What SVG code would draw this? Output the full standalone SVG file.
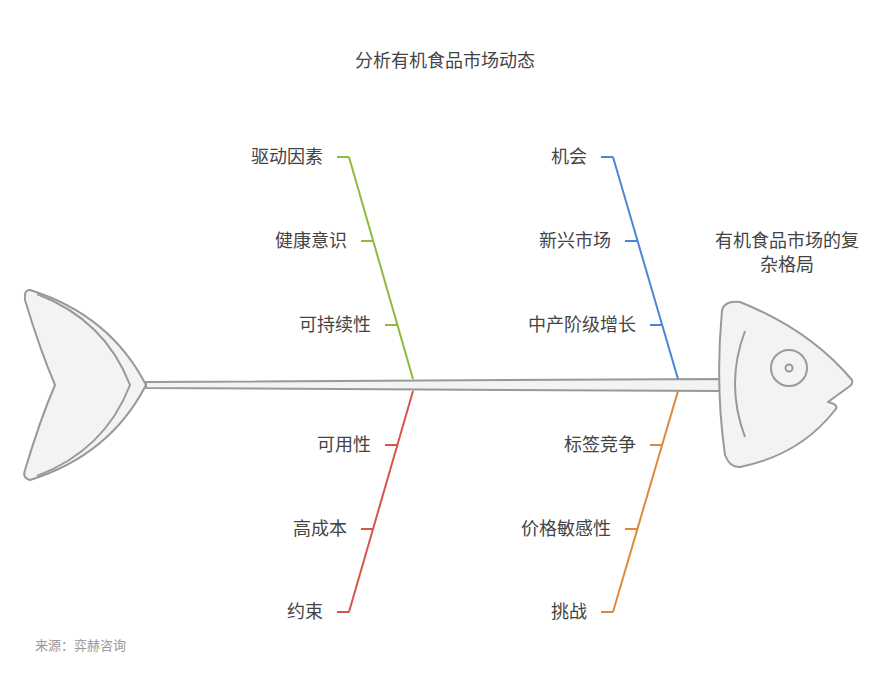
<svg xmlns="http://www.w3.org/2000/svg" width="896" height="674" viewBox="0 0 896 674">
<style>
text{font-family:"Liberation Sans","Noto Sans CJK SC",sans-serif;fill:#444;font-size:18px}
.l{text-anchor:end}
.body{fill:#f3f3f3;stroke:#999;stroke-width:2;stroke-linejoin:round}
.ln{fill:none;stroke:#999;stroke-width:2}
.g{stroke:#8fba3c;stroke-width:2;fill:none}
.r{stroke:#d9534f;stroke-width:2;fill:none}
.b{stroke:#4a86d8;stroke-width:2;fill:none}
.o{stroke:#dd8a3a;stroke-width:2;fill:none}
</style>
<rect width="896" height="674" fill="#fff"/>
<text x="445" y="67" text-anchor="middle">分析有机食品市场动态</text>
<g id="tail">
<path class="body" d="M30,290 Q110,315 146,385 Q110,455 30,480 Q22,478 25,470 Q40,420 55,385 Q40,350 25,300 Q24,289 30,290 Z"/>
<path class="ln" d="M37,294 Q105,320 130,385 Q105,450 37,476"/>
</g>
<g id="spine">
<path class="body" d="M146,382 L721,379 L721,391 L146,388 Z"/>
</g>
<g id="head">
<path class="body" d="M722,310 Q725,300 740,302 Q810,330 852,380 Q853,384 850,386 L828,402 Q840,405 835,410 Q800,455 740,467 Q730,468 725,455 Q715,385 722,310 Z"/>
<path class="ln" d="M745,331 Q725,384 745,437"/>
<circle cx="789" cy="368" r="18" class="ln"/>
<circle cx="789" cy="368" r="3.5" class="ln"/>
<text x="787" y="247" text-anchor="middle">有机食品市场的复</text>
<text x="787" y="271" text-anchor="middle">杂格局</text>
</g>
<g id="connectors">
<path class="g" d="M413,379 L349,157 M337,157 H349 M361,241 H373 M385,325 H397"/>
<path class="r" d="M413,391 L349,612 M337,612 H349 M361,529 H373 M385,445 H397"/>
<path class="b" d="M678,379 L613,157 M601,157 H613 M625,241 H637 M650,325 H662"/>
<path class="o" d="M678,391 L613,612 M601,612 H613 M625,529 H637 M650,445 H662"/>
</g>
<g id="drivers">
<text class="l" x="323" y="163">驱动因素</text>
<text class="l" x="347" y="247">健康意识</text>
<text class="l" x="371" y="331">可持续性</text>
</g>
<g id="constraints">
<text class="l" x="371" y="451">可用性</text>
<text class="l" x="347" y="535">高成本</text>
<text class="l" x="323" y="618">约束</text>
</g>
<g id="opportunities">
<text class="l" x="587" y="163">机会</text>
<text class="l" x="611" y="247">新兴市场</text>
<text class="l" x="636" y="331">中产阶级增长</text>
</g>
<g id="challenges">
<text class="l" x="636" y="451">标签竞争</text>
<text class="l" x="611" y="535">价格敏感性</text>
<text class="l" x="587" y="618">挑战</text>
</g>
<text x="35" y="650" style="font-size:13px;fill:#999">来源：弈赫咨询</text>
</svg>
